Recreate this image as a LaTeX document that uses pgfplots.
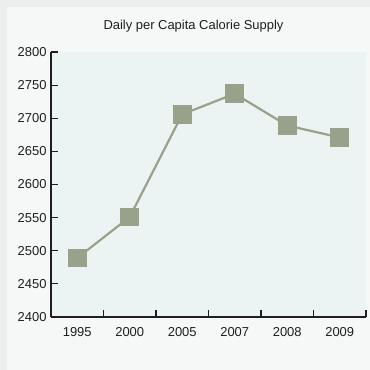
\documentclass[border=0pt]{standalone}
\usepackage{fontspec}
\setmainfont{Liberation Sans}
\usepackage{pgfplots}
\pgfplotsset{compat=1.18}
\definecolor{outerbg}{HTML}{ECEDED}
\definecolor{panelbg}{HTML}{F6F8F7}
\definecolor{plotbg}{HTML}{EBF4F2}
\definecolor{series}{HTML}{98A28B}
\definecolor{txt}{HTML}{1E1E1E}
\begin{document}
\begin{tikzpicture}[x=1bp,y=1bp]
% canvas: 370 x 370 px, plot box bottom-left at pixel (51,317)
\fill[outerbg] (-51,-53) rectangle (319,317);
\fill[panelbg] (-44,-53) rectangle (319,310);
\node[txt, font=\fontsize{13}{15}\selectfont] at (142.5,291) {Daily per Capita Calorie Supply};
\begin{axis}[
  at={(0,0)}, anchor=south west,
  scale only axis,
  width=315bp, height=265bp,
  xmin=-0.5, xmax=5.5,
  ymin=2400, ymax=2800,
  ytick={2400,2450,...,2800},
  xtick={0,...,5},
  xticklabels={1995,2000,2005,2007,2008,2009},
  minor xtick={-0.5,0.5,...,5.5},
  major x tick style={draw=none},
  axis x line=bottom, axis y line=left,
  axis line style={-, txt, line width=1.1bp},
  tick align=inside,
  major tick length=7bp, minor tick length=7bp,
  every tick/.style={txt, line width=1.1bp},
  minor tick style={txt, line width=1.1bp},
  axis background/.style={fill=plotbg},
  tick label style={txt, font=\fontsize{13}{15}\selectfont},
  /pgf/number format/assume math mode=true,
  yticklabel style={/pgf/number format/1000 sep={}, xshift=-1bp},
  xticklabel style={yshift=-7bp},
  clip=false,
]
\addplot[series, line width=2.2bp, mark=square*, mark size=8.3bp,
  mark options={fill=series, draw=none}] coordinates {
  (0,2489) (1,2551) (2,2706) (3,2737) (4,2689) (5,2671)
};
\end{axis}
\end{tikzpicture}
\end{document}
